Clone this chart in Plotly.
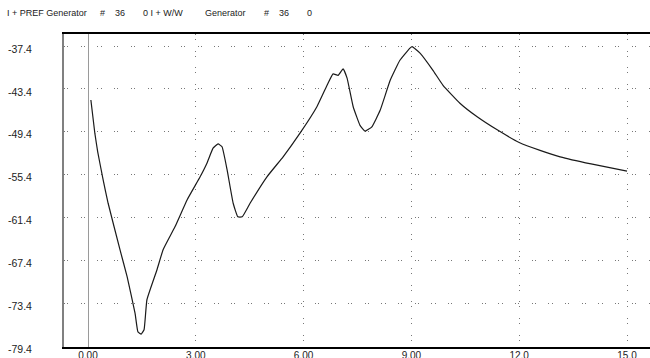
import plotly.graph_objects as go

# ---- data ----
freq = [0.08, 0.19, 0.27, 0.42, 0.56, 0.89, 1.09, 1.31, 1.39, 1.48, 1.56, 1.64, 1.92, 2.09,
        2.42, 2.76, 3.12, 3.31, 3.48, 3.62, 3.73, 3.87, 4.04, 4.17, 4.29, 4.51, 4.98, 5.43,
        5.90, 6.37, 6.68, 6.82, 6.96, 7.10, 7.21, 7.38, 7.57, 7.71, 7.90, 8.13, 8.41, 8.68,
        8.96, 9.02, 9.24, 9.60, 9.88, 10.35, 10.83, 11.41, 12.00, 12.58, 13.14, 14.00, 15.00]
level = [-44.95, -49.6, -52.2, -56.1, -59.4, -65.9, -69.7, -74.8, -77.4, -77.7, -77.1, -72.9,
         -68.7, -65.9, -62.7, -58.9, -55.7, -53.8, -51.7, -51.1, -51.5, -54.7, -59.4, -61.3,
         -61.3, -59.4, -55.7, -52.9, -49.6, -45.9, -42.6, -41.3, -41.5, -40.6, -41.9, -45.9,
         -48.5, -49.3, -48.7, -46.4, -42.2, -39.4, -37.7, -37.5, -38.4, -40.8, -42.9, -45.4,
         -47.3, -49.2, -50.9, -52.0, -52.9, -53.9, -54.9]

x_ticks = [0, 3, 6, 9, 12, 15]
x_tick_labels = ["0.00", "3.00", "6.00", "9.00", "12.0", "15.0"]
y_ticks = [-37.4, -43.4, -49.4, -55.4, -61.4, -67.4, -73.4, -79.4]
y_tick_labels = ["-37.4", "-43.4", "-49.4", "-55.4", "-61.4", "-67.4", "-73.4", "-79.4"]

title_pieces = ["I + PREF Generator", "#", "36", "0 I + W/W", "Generator", "#", "36", "0"]
title_px = [5, 98, 113, 141, 203, 262, 277, 305]

W, H = 650, 358
ML, MR, MT, MB = 64, 0, 34, 11
PW = W - ML - MR

FONT = "Liberation Sans, Arial, sans-serif"

fig = go.Figure()
fig.add_trace(go.Scatter(x=freq, y=level, mode="lines",
                         line=dict(color="#1a1a1a", width=1.2, shape="spline", smoothing=0.35),
                         hoverinfo="skip", showlegend=False))

fig.update_layout(
    width=W, height=H,
    margin=dict(l=ML, r=MR, t=MT, b=MB, autoexpand=False),
    paper_bgcolor="white", plot_bgcolor="white",
    font=dict(family=FONT, size=10, color="#222"),
    showlegend=False,
)

fig.update_xaxes(
    range=[-0.668, 15.64], automargin=False,
    tickvals=x_ticks, ticktext=x_tick_labels,
    showgrid=True, gridcolor="#777", gridwidth=1, griddash="1px,4px,1px,10.7px",
    zeroline=True, zerolinecolor="#9a9a9a", zerolinewidth=1,
    showline=True, linecolor="#000", linewidth=2, mirror=True,
    ticks="", ticklabelstandoff=-2,
    tickfont=dict(family=FONT, size=10, color="#222"),
)
fig.update_yaxes(
    range=[-79.51, -35.72], automargin=False,
    tickvals=y_ticks, ticktext=y_tick_labels,
    showgrid=True, gridcolor="#777", gridwidth=1, griddash="1px,2.3px,1px,12.4px",
    zeroline=False,
    showline=True, linecolor="#808080", linewidth=2,
    ticks="", ticklabelstandoff=28, ticklabelshift=3,
    tickfont=dict(family=FONT, size=10.5, color="#222"),
)

for txt, px in zip(title_pieces, title_px):
    fig.add_annotation(text=txt, xref="paper", yref="paper",
                       x=(px - ML) / PW, y=1 + (MT - 13) / (H - MT - MB),
                       xanchor="left", yanchor="middle", showarrow=False,
                       font=dict(family=FONT, size=9, color="#222"))

fig.write_html("out.html", config={"displayModeBar": False},
               post_script="document.body.style.margin='0px';")
